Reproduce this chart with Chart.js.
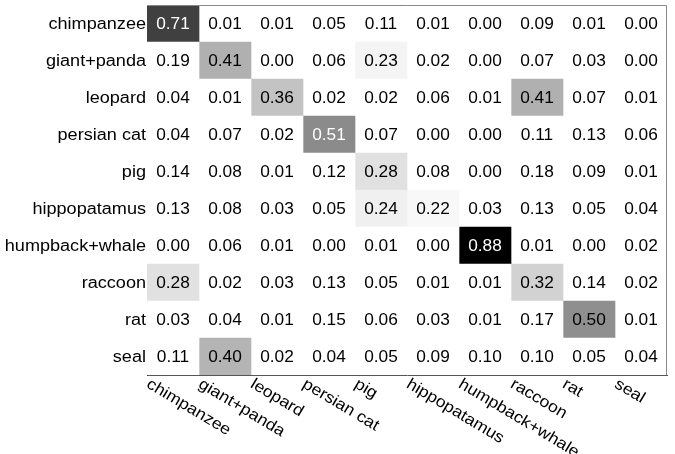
<!DOCTYPE html>
<html>
<head>
<meta charset="utf-8">
<script src="https://cdn.jsdelivr.net/npm/chart.js@4.4.1/dist/chart.umd.min.js"></script>
<style>
  html, body { margin: 0; padding: 0; background: #fff; }
  #wrap { width: 675px; height: 454px; }
</style>
</head>
<body>
<div id="wrap"><canvas id="c" width="675" height="454"></canvas></div>
<script>
// Class names (true label on rows, predicted label on columns)
const classes = ['chimpanzee', 'giant+panda', 'leopard', 'persian cat', 'pig',
                 'hippopatamus', 'humpback+whale', 'raccoon', 'rat', 'seal'];

// Row-normalised confusion values, one row per true class
const chimpanzeeRow    = [0.71, 0.01, 0.01, 0.05, 0.11, 0.01, 0.00, 0.09, 0.01, 0.00];
const giantPandaRow    = [0.19, 0.41, 0.00, 0.06, 0.23, 0.02, 0.00, 0.07, 0.03, 0.00];
const leopardRow       = [0.04, 0.01, 0.36, 0.02, 0.02, 0.06, 0.01, 0.41, 0.07, 0.01];
const persianCatRow    = [0.04, 0.07, 0.02, 0.51, 0.07, 0.00, 0.00, 0.11, 0.13, 0.06];
const pigRow           = [0.14, 0.08, 0.01, 0.12, 0.28, 0.08, 0.00, 0.18, 0.09, 0.01];
const hippopatamusRow  = [0.13, 0.08, 0.03, 0.05, 0.24, 0.22, 0.03, 0.13, 0.05, 0.04];
const humpbackWhaleRow = [0.00, 0.06, 0.01, 0.00, 0.01, 0.00, 0.88, 0.01, 0.00, 0.02];
const raccoonRow       = [0.28, 0.02, 0.03, 0.13, 0.05, 0.01, 0.01, 0.32, 0.14, 0.02];
const ratRow           = [0.03, 0.04, 0.01, 0.15, 0.06, 0.03, 0.01, 0.17, 0.50, 0.01];
const sealRow          = [0.11, 0.40, 0.02, 0.04, 0.05, 0.09, 0.10, 0.10, 0.05, 0.04];

const matrix = [chimpanzeeRow, giantPandaRow, leopardRow, persianCatRow, pigRow,
                hippopatamusRow, humpbackWhaleRow, raccoonRow, ratRow, sealRow];

const FONT = "16px 'Liberation Sans', Arial, sans-serif";
// the typeface is drawn slightly widened
const NUM_STRETCH = 1.08;
const LABEL_STRETCH = 1.13;

// Grey ramp: white up to ~0.2, black at the maximum
const LO = 0.20, HI = 0.88;
function greyLevel(v) {
  const t = Math.min(1, Math.max(0, (HI - v) / (HI - LO)));
  return Math.round(255 * t);
}
function shade(v) {
  const g = greyLevel(v);
  return `rgb(${g},${g},${g})`;
}

// One floating-bar dataset per predicted column; each bar spans [j, j+1]
const datasets = classes.map((name, j) => ({
  label: name,
  data: classes.map(() => [j, j + 1]),
  backgroundColor: matrix.map(row => shade(row[j])),
  borderWidth: 0,
  barPercentage: 1,
  categoryPercentage: 1,
  grouped: false
}));

function wideText(ctx, text, x, y, stretch) {
  ctx.save();
  ctx.translate(x, y);
  ctx.scale(stretch, 1);
  ctx.fillText(text, 0, 0);
  ctx.restore();
}

// Cell annotations, frame, row labels and slanted column labels
const annotate = {
  id: 'annotate',
  afterDatasetsDraw(chart) {
    const { ctx, chartArea: a, scales: { x, y } } = chart;
    ctx.save();

    // top and right edges of the frame
    ctx.strokeStyle = '#888';
    ctx.lineWidth = 1;
    ctx.beginPath();
    ctx.moveTo(a.left, a.top + 0.5);
    ctx.lineTo(a.right - 0.5, a.top + 0.5);
    ctx.lineTo(a.right - 0.5, a.bottom);
    ctx.stroke();

    ctx.font = FONT;
    ctx.textAlign = 'center';
    ctx.textBaseline = 'middle';
    matrix.forEach((row, i) => {
      row.forEach((v, j) => {
        ctx.fillStyle = greyLevel(v) < 140 ? '#fff' : '#000';
        wideText(ctx, v.toFixed(2), x.getPixelForValue(j + 0.5), y.getPixelForValue(i) + 1, NUM_STRETCH);
      });
    });

    // row labels, right-aligned against the axis
    ctx.fillStyle = '#000';
    ctx.textAlign = 'right';
    classes.forEach((name, i) => {
      wideText(ctx, name, a.left - 1, y.getPixelForValue(i) + 1, LABEL_STRETCH);
    });

    // column labels, rotated clockwise from the left edge of each column
    ctx.textAlign = 'left';
    ctx.textBaseline = 'top';
    classes.forEach((name, j) => {
      ctx.save();
      ctx.translate(x.getPixelForValue(j) + 5, a.bottom + 1);
      ctx.rotate(31 * Math.PI / 180);
      ctx.scale(1.1, 1);
      ctx.fillText(name, 0, 0);
      ctx.restore();
    });
    ctx.restore();
  }
};

new Chart(document.getElementById('c'), {
  type: 'bar',
  data: { labels: classes, datasets },
  options: {
    indexAxis: 'y',
    responsive: false,
    animation: false,
    layout: { padding: { top: 5, right: 8, left: 0, bottom: 0 } },
    plugins: { legend: { display: false }, tooltip: { enabled: false } },
    scales: {
      x: {
        type: 'linear',
        min: 0,
        max: classes.length,
        ticks: { display: false },
        grid: { display: false, drawTicks: false },
        border: { display: true, color: '#555', width: 1 },
        afterFit(s) { s.height = 79; }
      },
      y: {
        type: 'category',
        offset: true,
        ticks: { display: false },
        grid: { display: false, drawTicks: false },
        border: { display: true, color: '#444', width: 1 },
        afterFit(s) { s.width = 147; }
      }
    }
  },
  plugins: [annotate]
});
</script>
</body>
</html>
